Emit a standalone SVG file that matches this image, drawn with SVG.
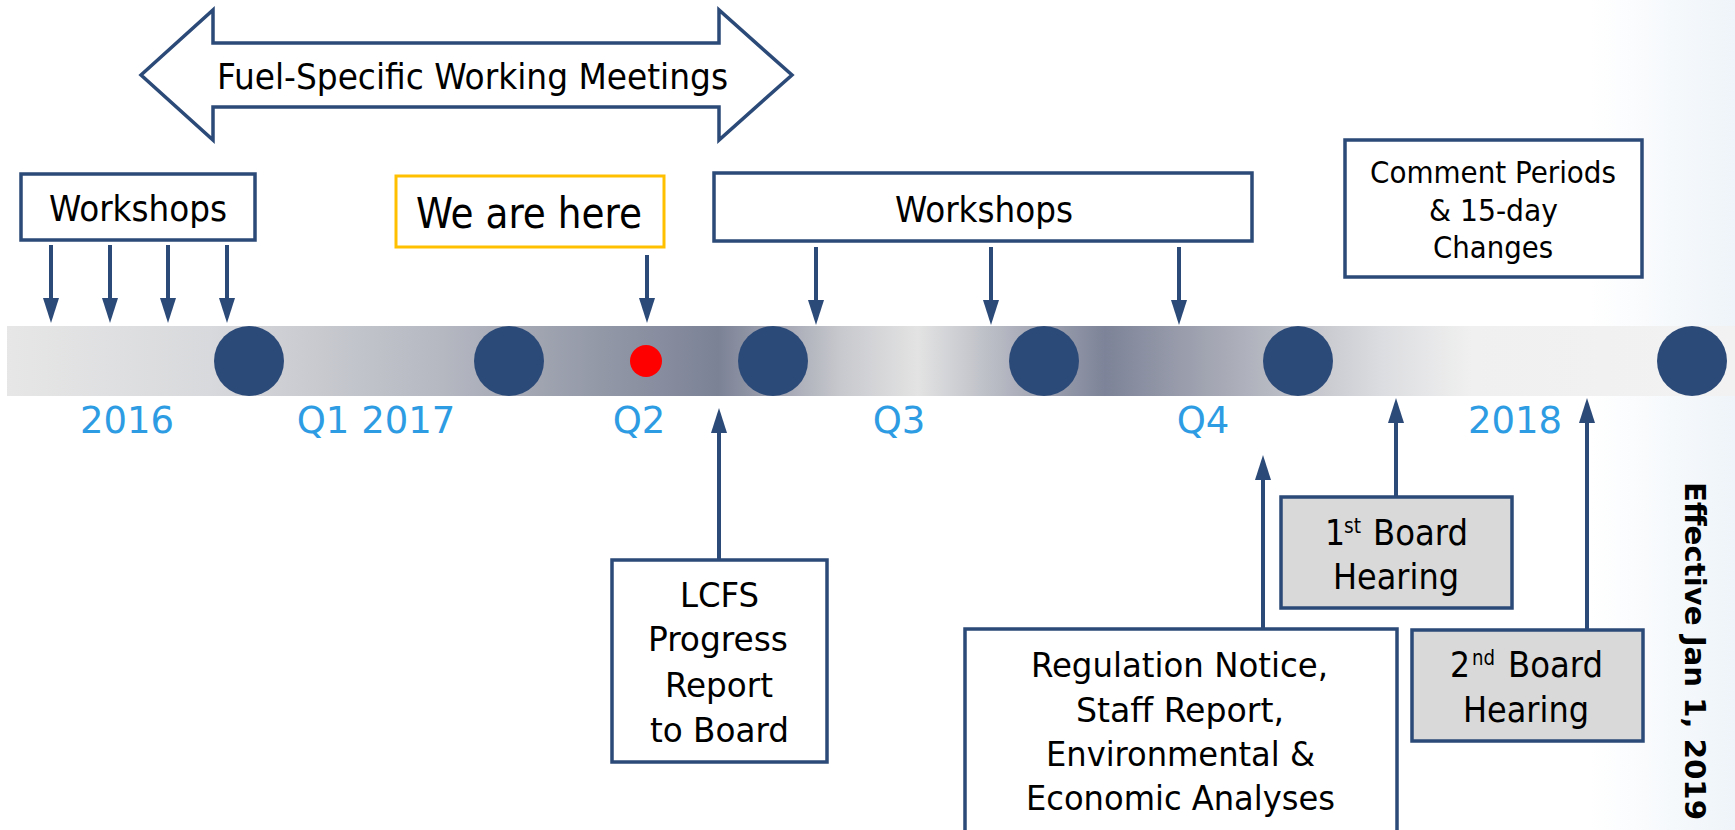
<svg xmlns="http://www.w3.org/2000/svg" width="1735" height="830" viewBox="0 0 1735 830">
  <defs>
    <linearGradient id="bandGrad" gradientUnits="userSpaceOnUse" x1="0" y1="0" x2="1735" y2="0">
      <stop offset="0" stop-color="#e7e7e7"/>
      <stop offset="0.121" stop-color="#d8d9dc"/>
      <stop offset="0.255" stop-color="#b5b8c1"/>
      <stop offset="0.344" stop-color="#9499a8"/>
      <stop offset="0.414" stop-color="#7c8296"/>
      <stop offset="0.485" stop-color="#c8c9ce"/>
      <stop offset="0.529" stop-color="#e3e3e3"/>
      <stop offset="0.637" stop-color="#7d8398"/>
      <stop offset="0.701" stop-color="#a5a8b4"/>
      <stop offset="0.797" stop-color="#dcdde0"/>
      <stop offset="0.848" stop-color="#f0f0f0"/>
      <stop offset="1" stop-color="#f2f2f2"/>
    </linearGradient>
    <linearGradient id="edgeGlow" x1="0" y1="0" x2="1" y2="0">
      <stop offset="0" stop-color="#f0f5fa" stop-opacity="0"/>
      <stop offset="1" stop-color="#eef4f9" stop-opacity="1"/>
    </linearGradient>
    <marker id="head" markerUnits="userSpaceOnUse" markerWidth="26" markerHeight="16" refX="2" refY="8" orient="auto">
      <path d="M0,0 L25,8 L0,16 Z" fill="#2c4a78"/>
    </marker>
    <style>
      .box { fill: #ffffff; stroke: #2c4a78; stroke-width: 3.5; }
      .gray { fill: #d9d9d9; stroke: #2c4a78; stroke-width: 3.5; }
      .here { fill: #ffffff; stroke: #ffc000; stroke-width: 3; }
      .dot { fill: #2c4a78; }
      .lbl { font-family: "DejaVu Sans Condensed", "DejaVu Sans", sans-serif; fill: #000000; }
      .yr { font-family: "DejaVu Sans", sans-serif; font-size: 37px; fill: #2e9ce3; text-anchor: middle; }
      .conn { stroke: #2c4a78; stroke-width: 4; fill: none; marker-end: url(#head); }
    </style>
  </defs>

  <rect x="0" y="0" width="1735" height="830" fill="#ffffff"/>
  <rect x="1590" y="0" width="145" height="830" fill="url(#edgeGlow)"/>

  <!-- timeline band with milestone dots -->
  <g id="timeline">
    <rect x="7" y="326" width="1728" height="70" fill="url(#bandGrad)"/>
    <circle class="dot" cx="249" cy="361" r="35"/>
    <circle class="dot" cx="509" cy="361" r="35"/>
    <circle class="dot" cx="773" cy="361" r="35"/>
    <circle class="dot" cx="1044" cy="361" r="35"/>
    <circle class="dot" cx="1298" cy="361" r="35"/>
    <circle class="dot" cx="1692" cy="361" r="35"/>
    <circle cx="646" cy="361" r="16" fill="#ff0000"/>
  </g>

  <!-- period labels under the band -->
  <g id="periods">
    <text class="yr" x="127" y="433">2016</text>
    <text class="yr" x="376" y="433">Q1 2017</text>
    <text class="yr" x="639" y="433">Q2</text>
    <text class="yr" x="899" y="433">Q3</text>
    <text class="yr" x="1203" y="433">Q4</text>
    <text class="yr" x="1515" y="433">2018</text>
  </g>

  <!-- connectors -->
  <g id="connectors">
    <path class="conn" d="M51,245 V300"/>
    <path class="conn" d="M110,245 V300"/>
    <path class="conn" d="M168,245 V300"/>
    <path class="conn" d="M227,245 V300"/>
    <path class="conn" d="M647,255 V300"/>
    <path class="conn" d="M816,247 V302"/>
    <path class="conn" d="M991,247 V302"/>
    <path class="conn" d="M1179,247 V302"/>
    <path class="conn" d="M719,560 V431"/>
    <path class="conn" d="M1263,629 V478"/>
    <path class="conn" d="M1396,497 V421"/>
    <path class="conn" d="M1587,629 V421"/>
  </g>

  <g id="fuel-meetings">
    <polygon points="141,75 213,10 213,43 719,43 719,10 792,75 719,140 719,107 213,107 213,140" fill="#ffffff" stroke="#2c4a78" stroke-width="3.5" stroke-linejoin="miter"/>
    <text class="lbl" x="217" y="89" font-size="36" textLength="511" lengthAdjust="spacingAndGlyphs">Fuel-Specific Working Meetings</text>
  </g>

  <g id="workshops-2016">
    <rect class="box" x="21" y="174" width="234" height="66"/>
    <text class="lbl" x="49" y="221" font-size="36" textLength="178" lengthAdjust="spacingAndGlyphs">Workshops</text>
  </g>

  <g id="we-are-here">
    <rect class="here" x="396" y="176" width="268" height="71"/>
    <text class="lbl" x="416" y="228" font-size="42" textLength="226" lengthAdjust="spacingAndGlyphs">We are here</text>
  </g>

  <g id="workshops-2017">
    <rect class="box" x="714" y="173" width="538" height="68"/>
    <text class="lbl" x="895" y="222" font-size="36" textLength="178" lengthAdjust="spacingAndGlyphs">Workshops</text>
  </g>

  <g id="comment-periods">
    <rect class="box" x="1345" y="140" width="297" height="137"/>
    <text class="lbl" x="1370" y="183" font-size="30" textLength="246" lengthAdjust="spacingAndGlyphs">Comment Periods</text>
    <text class="lbl" x="1429" y="221" font-size="30" textLength="129" lengthAdjust="spacingAndGlyphs">&amp; 15-day</text>
    <text class="lbl" x="1433" y="258" font-size="30" textLength="120" lengthAdjust="spacingAndGlyphs">Changes</text>
  </g>

  <g id="progress-report">
    <rect class="box" x="612" y="560" width="215" height="202"/>
    <text class="lbl" x="680" y="607" font-size="34" textLength="79" lengthAdjust="spacingAndGlyphs">LCFS</text>
    <text class="lbl" x="648" y="651" font-size="34" textLength="140" lengthAdjust="spacingAndGlyphs">Progress</text>
    <text class="lbl" x="665" y="697" font-size="34" textLength="108" lengthAdjust="spacingAndGlyphs">Report</text>
    <text class="lbl" x="650" y="742" font-size="34" textLength="139" lengthAdjust="spacingAndGlyphs">to Board</text>
  </g>

  <g id="regulation-notice">
    <rect class="box" x="965" y="629" width="432" height="205"/>
    <text class="lbl" x="1031" y="677" font-size="34" textLength="297" lengthAdjust="spacingAndGlyphs">Regulation Notice,</text>
    <text class="lbl" x="1076" y="722" font-size="34" textLength="208" lengthAdjust="spacingAndGlyphs">Staff Report,</text>
    <text class="lbl" x="1046" y="766" font-size="34" textLength="269" lengthAdjust="spacingAndGlyphs">Environmental &amp;</text>
    <text class="lbl" x="1026" y="810" font-size="34" textLength="309" lengthAdjust="spacingAndGlyphs">Economic Analyses</text>
  </g>

  <g id="first-hearing">
    <rect class="gray" x="1281" y="497" width="231" height="111"/>
    <text class="lbl" x="1325" y="545" font-size="35">1</text>
    <text class="lbl" x="1344" y="533" font-size="21" textLength="17" lengthAdjust="spacingAndGlyphs">st</text>
    <text class="lbl" x="1373" y="545" font-size="35" textLength="95" lengthAdjust="spacingAndGlyphs">Board</text>
    <text class="lbl" x="1333" y="589" font-size="35" textLength="126" lengthAdjust="spacingAndGlyphs">Hearing</text>
  </g>

  <g id="second-hearing">
    <rect class="gray" x="1412" y="630" width="231" height="111"/>
    <text class="lbl" x="1450" y="677" font-size="35">2</text>
    <text class="lbl" x="1472" y="665" font-size="21" textLength="23" lengthAdjust="spacingAndGlyphs">nd</text>
    <text class="lbl" x="1508" y="677" font-size="35" textLength="95" lengthAdjust="spacingAndGlyphs">Board</text>
    <text class="lbl" x="1463" y="722" font-size="35" textLength="126" lengthAdjust="spacingAndGlyphs">Hearing</text>
  </g>

  <g id="effective-date">
    <text transform="translate(1685,482) rotate(90)" font-family="'DejaVu Sans Condensed', 'DejaVu Sans', sans-serif" font-weight="bold" font-size="29" fill="#000000" textLength="338" lengthAdjust="spacingAndGlyphs">Effective Jan 1, 2019</text>
  </g>
</svg>
